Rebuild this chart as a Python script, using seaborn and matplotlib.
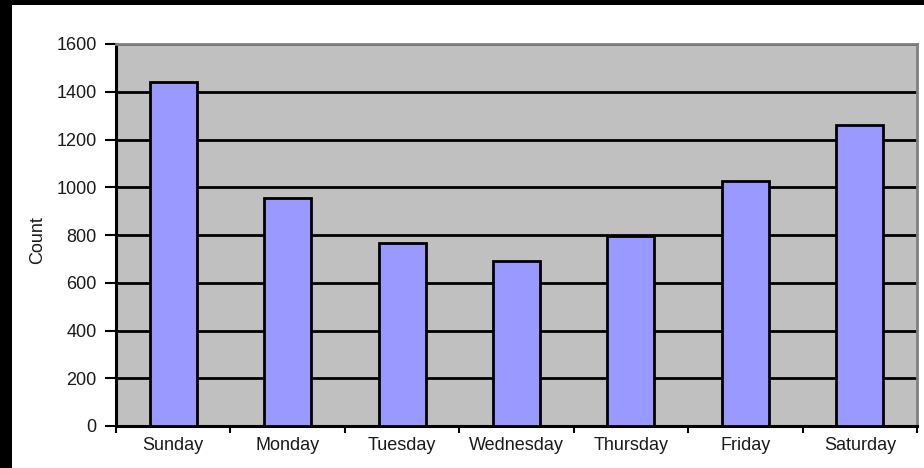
import matplotlib
matplotlib.use("Agg")
import matplotlib.pyplot as plt
from matplotlib.patches import Rectangle
from matplotlib.ticker import FixedLocator
import seaborn as sns
import pandas as pd

days = ["Sunday", "Monday", "Tuesday", "Wednesday", "Thursday", "Friday", "Saturday"]
counts = [1440, 955, 765, 690, 795, 1025, 1260]
y_ticks = [0, 200, 400, 600, 800, 1000, 1200, 1400, 1600]

sns.set_theme(style="white")
plt.rcParams["font.family"] = ["Liberation Sans", "DejaVu Sans"]

df = pd.DataFrame({"day": days, "count": counts})

fig = plt.figure(figsize=(9.24, 4.68), dpi=100)
fig.patch.set_facecolor("white")

# dark frame along the left and top edges
fig.patches.append(Rectangle((0, 0), 12 / 924, 1, transform=fig.transFigure,
                             facecolor="black", edgecolor="none", zorder=10))
fig.patches.append(Rectangle((0, 1 - 5 / 468), 1, 5 / 468, transform=fig.transFigure,
                             facecolor="black", edgecolor="none", zorder=10))

ax = fig.add_axes([116 / 924, 1 - 426 / 468, (917 - 116) / 924, (426 - 44) / 468])
ax.set_facecolor("#C0C0C0")

sns.barplot(data=df, x="day", y="count", order=days, color="#9999FF",
            edgecolor="black", linewidth=2.0, width=0.41, saturation=1,
            ax=ax, zorder=3)

ax.set_xlim(-0.5, len(days) - 0.5)
ax.set_ylim(0, 1600)
ax.set_axisbelow(True)

ax.yaxis.set_major_locator(FixedLocator(y_ticks))
ax.set_yticklabels([str(v) for v in y_ticks])
ax.grid(axis="y", color="black", linewidth=2.0, zorder=1)
ax.grid(axis="x", visible=False)

# category separators as ticks, labels centred under bars
ax.xaxis.set_minor_locator(FixedLocator([i - 0.5 for i in range(len(days) + 1)]))
ax.tick_params(axis="x", which="major", length=0, pad=8, labelsize=13,
               labelcolor="#1a1a1a")
ax.tick_params(axis="x", which="minor", bottom=True, length=5, width=1.5,
               color="black", direction="out")
ax.tick_params(axis="y", which="major", left=True, length=8, width=1.5,
               color="black", direction="out", pad=6, labelsize=13,
               labelcolor="#1a1a1a")

ax.set_xlabel("")
ax.set_ylabel("")
fig.text(38 / 924, 1 - 240 / 468, "Count", rotation=90, ha="center", va="center",
         fontsize=13, color="#1a1a1a")

for side in ("left", "bottom"):
    ax.spines[side].set_color("black")
    ax.spines[side].set_linewidth(2.2)
for side in ("top", "right"):
    ax.spines[side].set_visible(True)
    ax.spines[side].set_color("#808080")
    ax.spines[side].set_linewidth(2.0)

fig.savefig("out.png", dpi=100, facecolor="white")
